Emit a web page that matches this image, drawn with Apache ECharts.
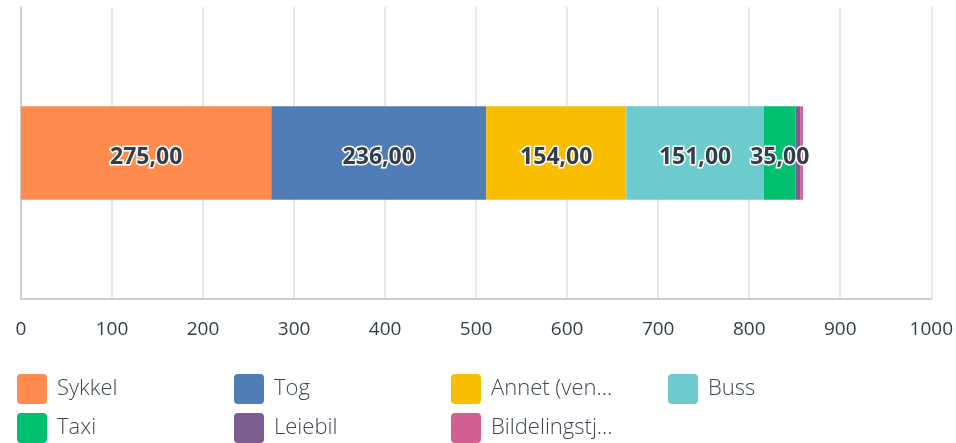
<!DOCTYPE html>
<html>
<head>
<meta charset="utf-8">
<script src="https://cdn.jsdelivr.net/npm/echarts@6/dist/echarts.min.js"></script>
<style>
  html, body { margin: 0; padding: 0; background: #fff; }
  #chart { width: 956px; height: 443px; }
</style>
</head>
<body>
<div id="chart"></div>
<script>
"use strict";

const CATEGORY = ["Reisemåte"];
const SERIES_NAMES = ["Sykkel", "Tog", "Annet (ven...", "Buss", "Taxi", "Leiebil", "Bildelingstj..."];
const SERIES_VALUES = [275, 236, 154, 151, 35, 5, 3];
const SERIES_COLORS = ["#ff8b4f", "#4f7db6", "#f9be00", "#6ccbcc", "#00bf6f", "#7d5c91", "#d25f90"];
const X_TICKS = [0, 100, 200, 300, 400, 500, 600, 700, 800, 900, 1000];

const FONT = "'Open Sans', 'Noto Sans', sans-serif";
const TEXT = "#333e48";
const ICON = "path://M4,0 H26 A4,4 0 0 1 30,4 V26 A4,4 0 0 1 26,30 H4 A4,4 0 0 1 0,26 V4 A4,4 0 0 1 4,0 Z";

const chart = echarts.init(document.getElementById("chart"), null, { renderer: "canvas" });

const series = SERIES_NAMES.map((name, i) => ({
  name,
  type: "bar",
  stack: "total",
  barWidth: "32%",
  data: [SERIES_VALUES[i]],
  itemStyle: { color: SERIES_COLORS[i] },
  label: {
    show: SERIES_VALUES[i] >= 20,
    position: "inside",
    offset: [0, 4],
    formatter: p => p.value.toFixed(2).replace(".", ","),
    fontFamily: FONT,
    fontSize: 23,
    fontWeight: "bold",
    color: TEXT,
    textBorderColor: "#fff",
    textBorderWidth: 3
  }
}));

// one legend per item so the columns sit on a fixed 217px grid
const legends = SERIES_NAMES.map((name, i) => ({
  data: [name],
  left: 17 + (i % 4) * 217,
  top: 374 + Math.floor(i / 4) * 39,
  padding: 0,
  itemWidth: 30,
  itemHeight: 30,
  icon: ICON,
  selectedMode: false,
  itemGap: 0,
  textStyle: { color: "#3e4852", fontSize: 22, fontWeight: 300, fontFamily: FONT, padding: [4, 0, 0, 5] }
}));

chart.setOption({
  animation: false,
  textStyle: { fontFamily: FONT },
  grid: { left: 21, right: 19, top: 7, bottom: 144, containLabel: false },
  xAxis: {
    type: "value",
    min: X_TICKS[0],
    max: X_TICKS[X_TICKS.length - 1],
    interval: 100,
    axisLine: { show: true, lineStyle: { color: "#cfcfcf", width: 2 } },
    axisTick: { show: false },
    axisLabel: { color: TEXT, fontSize: 19, margin: 21, fontFamily: FONT, formatter: v => String(v) },
    splitLine: { show: true, lineStyle: { color: "#e8e8e8", width: 2 } }
  },
  yAxis: {
    type: "category",
    data: CATEGORY,
    axisLine: { show: true, lineStyle: { color: "#cfcfcf", width: 2 } },
    axisTick: { show: false },
    axisLabel: { show: false }
  },
  legend: legends,
  series
});
</script>
</body>
</html>
